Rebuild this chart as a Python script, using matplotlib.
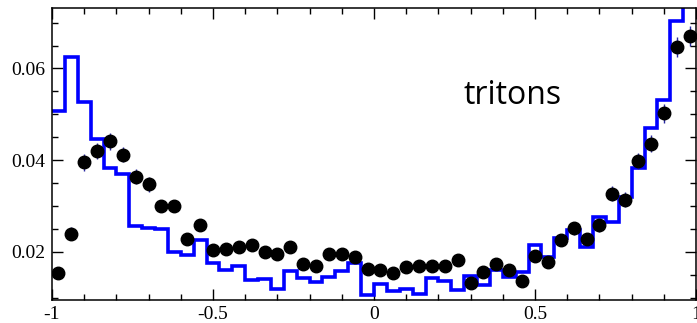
import numpy as np
import matplotlib.pyplot as plt
from matplotlib.ticker import MultipleLocator, FormatStrFormatter

# model histogram (blue), 50 bins from -1 to 1
model = [0.0507, 0.0625, 0.0527, 0.0446, 0.0382, 0.0369, 0.0256, 0.0252, 0.0250, 0.0199,
         0.0193, 0.0227, 0.0175, 0.0161, 0.0170, 0.0138, 0.0140, 0.0119, 0.0159, 0.0144,
         0.0135, 0.0145, 0.0158, 0.0175, 0.0106, 0.0130, 0.0114, 0.0119, 0.0109, 0.0142,
         0.0137, 0.0116, 0.0147, 0.0127, 0.0160, 0.0145, 0.0156, 0.0215, 0.0188, 0.0231,
         0.0247, 0.0211, 0.0276, 0.0265, 0.0320, 0.0383, 0.0471, 0.0532, 0.0704, 0.0780]

# measured points (black)
data = [0.0153, 0.0240, 0.0395, 0.0420, 0.0441, 0.0412, 0.0364, 0.0347, 0.0300, 0.0300,
        0.0228, 0.0258, 0.0205, 0.0207, 0.0211, 0.0216, 0.0200, 0.0195, 0.0211, 0.0173,
        0.0169, 0.0196, 0.0196, 0.0189, 0.0162, 0.0160, 0.0153, 0.0166, 0.0169, 0.0169,
        0.0169, 0.0182, 0.0133, 0.0156, 0.0173, 0.0160, 0.0136, 0.0191, 0.0178, 0.0226,
        0.0251, 0.0229, 0.0258, 0.0327, 0.0314, 0.0398, 0.0436, 0.0502, 0.0647, 0.0671]

errors = [0.0010, 0.0015, 0.0018, 0.0018, 0.0018, 0.0017, 0.0016, 0.0016, 0.0014, 0.0014,
          0.0013, 0.0013, 0.0012, 0.0012, 0.0012, 0.0012, 0.0012, 0.0012, 0.0012, 0.0011,
          0.0011, 0.0011, 0.0011, 0.0011, 0.0010, 0.0010, 0.0010, 0.0010, 0.0010, 0.0010,
          0.0010, 0.0011, 0.0010, 0.0010, 0.0011, 0.0011, 0.0010, 0.0012, 0.0012, 0.0013,
          0.0014, 0.0013, 0.0014, 0.0016, 0.0016, 0.0018, 0.0019, 0.0020, 0.0022, 0.0022]

edges = np.linspace(-1, 1, len(model) + 1)
centers = 0.5 * (edges[:-1] + edges[1:])

fig = plt.figure(figsize=(6.97, 3.23), dpi=100)
ax = fig.add_axes([0.0746, 0.0697, 0.9240, 0.9043])

ax.stairs(model, edges, color='#0000ff', linewidth=2.6, baseline=None, zorder=2)
ax.errorbar(centers, data, yerr=errors, fmt='none', ecolor='#2828a0', elinewidth=1.0, zorder=3)
ax.plot(centers, data, 'o', color='black', markersize=9, zorder=4)

ax.text(0.43, 0.0542, 'tritons', fontsize=23, family='Open Sans', ha='center', va='center')

ax.set_xlim(-1, 1)
ax.set_ylim(0.0094, 0.0731)

ax.xaxis.set_major_locator(MultipleLocator(0.5))
ax.xaxis.set_minor_locator(MultipleLocator(0.1))
ax.yaxis.set_major_locator(MultipleLocator(0.02))
ax.yaxis.set_minor_locator(MultipleLocator(0.005))
ax.xaxis.set_major_formatter(plt.FuncFormatter(lambda v, p: '%g' % v))
ax.yaxis.set_major_formatter(FormatStrFormatter('%.2f'))

ax.tick_params(which='both', direction='in', top=True, right=True, width=1.0)
ax.tick_params(which='major', length=8)
ax.tick_params(which='minor', length=4)
for lab in ax.get_xticklabels() + ax.get_yticklabels():
    lab.set_family('Liberation Serif')
    lab.set_fontsize(14)
ax.tick_params(axis='x', pad=4)
ax.tick_params(axis='y', pad=5)
for s in ax.spines.values():
    s.set_linewidth(1.1)

fig.savefig('out.png', dpi=100)
